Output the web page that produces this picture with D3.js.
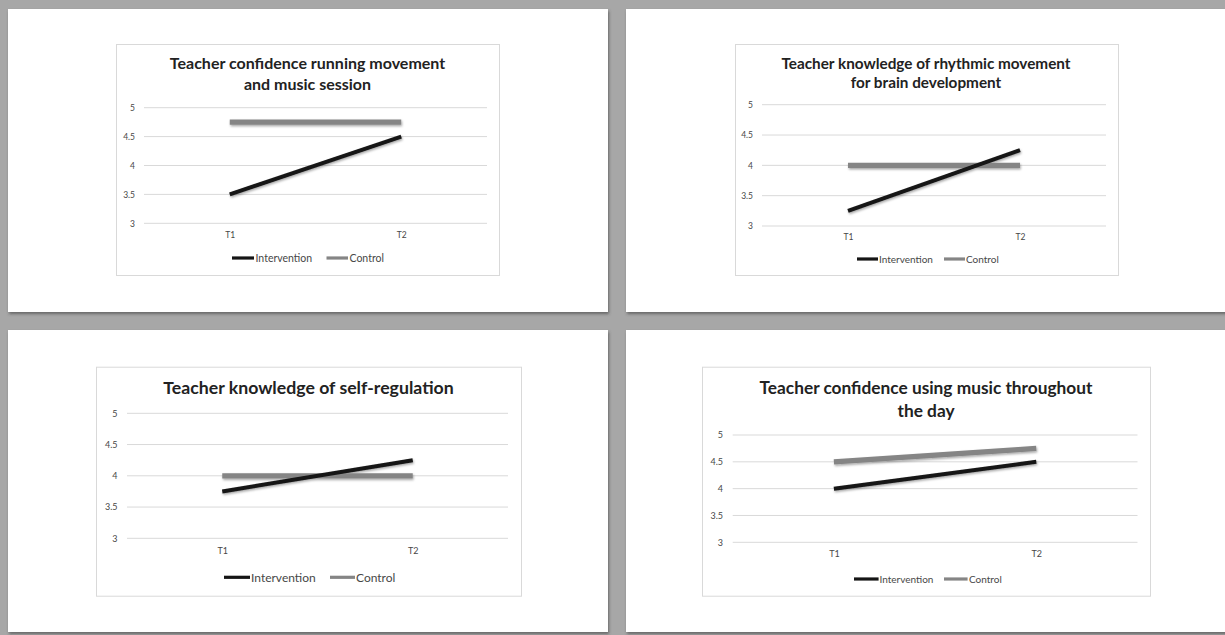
<!DOCTYPE html>
<html>
<head>
<meta charset="utf-8">
<script src="https://cdn.jsdelivr.net/npm/d3@7/dist/d3.min.js"></script>
<style>
  html, body { margin: 0; padding: 0; background: #a7a7a7; }
  svg { display: block; }
</style>
</head>
<body>
<svg id="chart" width="1225" height="635"></svg>
<script>
// ---------- data ----------
const categories = ["T1", "T2"];
const yTickValues = [3, 3.5, 4, 4.5, 5];
const seriesNames = ["Intervention", "Control"];
const titles = [
  ["Teacher confidence running movement", "and music session"],
  ["Teacher knowledge of rhythmic movement", "for brain development"],
  ["Teacher knowledge of self-regulation"],
  ["Teacher confidence using music throughout", "the day"]
];
const interventionValues = [
  [3.5, 4.5],
  [3.25, 4.25],
  [3.75, 4.25],
  [4.0, 4.5]
];
const controlValues = [
  [4.75, 4.75],
  [4.0, 4.0],
  [4.0, 4.0],
  [4.5, 4.75]
];

// ---------- layout (positions/sizes only) ----------
const layouts = [
  { panel: [8, 9, 600, 303], box: [116, 44, 383, 231], grid: [144, 487, 107.7, 223.3],
    titleX: 307.5, titleY: [69, 90], titleSize: 16, tickEnd: 135, tickSize: 8.5,
    xLabY: 240, legY: 258, leg: [232, 254, 255.5, 326.5, 348, 349.5], legSize: 10.5 },
  { panel: [626, 9, 610, 303], box: [735, 44, 383, 231], grid: [762, 1106, 104.7, 226],
    titleX: 926, titleY: [68.5, 87.5], titleSize: 15.3, tickEnd: 753, tickSize: 8.5,
    xLabY: 242, legY: 259, leg: [857, 878, 879, 944, 965, 966], legSize: 10 },
  { panel: [8, 330, 600, 302], box: [96, 366.7, 425, 229], grid: [127, 508, 413.3, 538.3],
    titleX: 308.5, titleY: [394], titleSize: 17.7, tickEnd: 117.5, tickSize: 9,
    xLabY: 556.5, legY: 577.3, leg: [224, 250, 251, 330, 355, 356], legSize: 12 },
  { panel: [626, 330, 610, 302], box: [702, 366.7, 448, 229], grid: [732.7, 1137.5, 435, 542.3],
    titleX: 926, titleY: [394, 416.5], titleSize: 17.3, tickEnd: 723, tickSize: 9,
    xLabY: 559.5, legY: 579, leg: [854, 878.6, 879.5, 944, 967.6, 969], legSize: 10 }
];

const COLORS = { Intervention: "#151515", Control: "#858585" };
const WIDTHS = { Intervention: 4, Control: 5.2 };
const FONT = "Lato, 'Open Sans', 'DejaVu Sans', sans-serif";
const TEXT_COLOR = "#474747";

const svg = d3.select("#chart");
const defs = svg.append("defs");
const ps = defs.append("filter").attr("id", "panelShadow")
  .attr("x", "-5%").attr("y", "-5%").attr("width", "110%").attr("height", "110%");
ps.append("feDropShadow").attr("dx", 1).attr("dy", 2).attr("stdDeviation", 1.6)
  .attr("flood-color", "#3a3a3a").attr("flood-opacity", 0.6);
const ls = defs.append("filter").attr("id", "lineShadow")
  .attr("x", "-10%").attr("y", "-50%").attr("width", "120%").attr("height", "200%");
ls.append("feDropShadow").attr("dx", 0.8).attr("dy", 1.5).attr("stdDeviation", 1)
  .attr("flood-color", "#000").attr("flood-opacity", 0.35);

layouts.forEach((L, i) => {
  const g = svg.append("g");
  // panel
  g.append("rect").attr("x", L.panel[0]).attr("y", L.panel[1])
    .attr("width", L.panel[2]).attr("height", L.panel[3])
    .attr("fill", "#ffffff").attr("filter", "url(#panelShadow)");
  // chart box
  g.append("rect").attr("x", L.box[0] + 0.5).attr("y", L.box[1] + 0.5)
    .attr("width", L.box[2]).attr("height", L.box[3])
    .attr("fill", "#ffffff").attr("stroke", "#d9d9d9").attr("stroke-width", 1);

  // scales
  const x = d3.scalePoint().domain(categories).range([L.grid[0], L.grid[1]]).padding(0.5);
  const y = d3.scaleLinear().domain([5, 3]).range([L.grid[2], L.grid[3]]);

  // grid lines
  g.append("g").selectAll("line").data(yTickValues).join("line")
    .attr("x1", L.grid[0]).attr("x2", L.grid[1])
    .attr("y1", d => y(d)).attr("y2", d => y(d))
    .attr("stroke", "#d9d9d9").attr("stroke-width", 1);

  // y axis via d3.axisLeft (labels only)
  const yAxis = g.append("g").attr("transform", `translate(${L.tickEnd},0)`)
    .call(d3.axisLeft(y).tickValues(yTickValues).tickSize(0).tickPadding(0)
      .tickFormat(d3.format("")));
  yAxis.select(".domain").remove();
  yAxis.selectAll("text").attr("fill", TEXT_COLOR)
    .style("font-family", FONT).style("font-size", L.tickSize + "px");

  // x axis labels via d3.axisBottom
  const xAxis = g.append("g").attr("transform", `translate(0,${L.xLabY - L.tickSize})`)
    .call(d3.axisBottom(x).tickSize(0).tickPadding(0));
  xAxis.select(".domain").remove();
  xAxis.selectAll("text").attr("fill", TEXT_COLOR).attr("dy", "0.71em")
    .style("font-family", FONT).style("font-size", L.tickSize + "px");

  // series lines
  const line = d3.line().x((d, j) => x(categories[j])).y(d => y(d));
  const seriesData = [
    { name: "Control", values: controlValues[i] },
    { name: "Intervention", values: interventionValues[i] }
  ];
  g.append("g").attr("filter", "url(#lineShadow)")
    .selectAll("path").data(seriesData).join("path")
    .attr("d", d => line(d.values))
    .attr("fill", "none")
    .attr("stroke", d => COLORS[d.name])
    .attr("stroke-width", d => WIDTHS[d.name])
    .attr("stroke-linecap", "butt");

  // title
  const t = g.append("text").attr("text-anchor", "middle")
    .attr("fill", "#222222")
    .style("font-family", FONT).style("font-weight", "bold")
    .style("font-size", L.titleSize + "px");
  titles[i].forEach((s, k) => {
    t.append("tspan").attr("x", L.titleX).attr("y", L.titleY[k]).text(s);
  });

  // legend
  const legItems = [
    { name: seriesNames[0], x1: L.leg[0], x2: L.leg[1], tx: L.leg[2] },
    { name: seriesNames[1], x1: L.leg[3], x2: L.leg[4], tx: L.leg[5] }
  ];
  const lg = g.append("g");
  lg.selectAll("line").data(legItems).join("line")
    .attr("x1", d => d.x1).attr("x2", d => d.x2)
    .attr("y1", L.legY).attr("y2", L.legY)
    .attr("stroke", d => COLORS[d.name]).attr("stroke-width", 3.2);
  lg.selectAll("text").data(legItems).join("text")
    .attr("x", d => d.tx).attr("y", L.legY).attr("dy", "0.35em")
    .attr("fill", TEXT_COLOR)
    .style("font-family", FONT).style("font-size", L.legSize + "px")
    .text(d => d.name);
});
</script>
</body>
</html>
